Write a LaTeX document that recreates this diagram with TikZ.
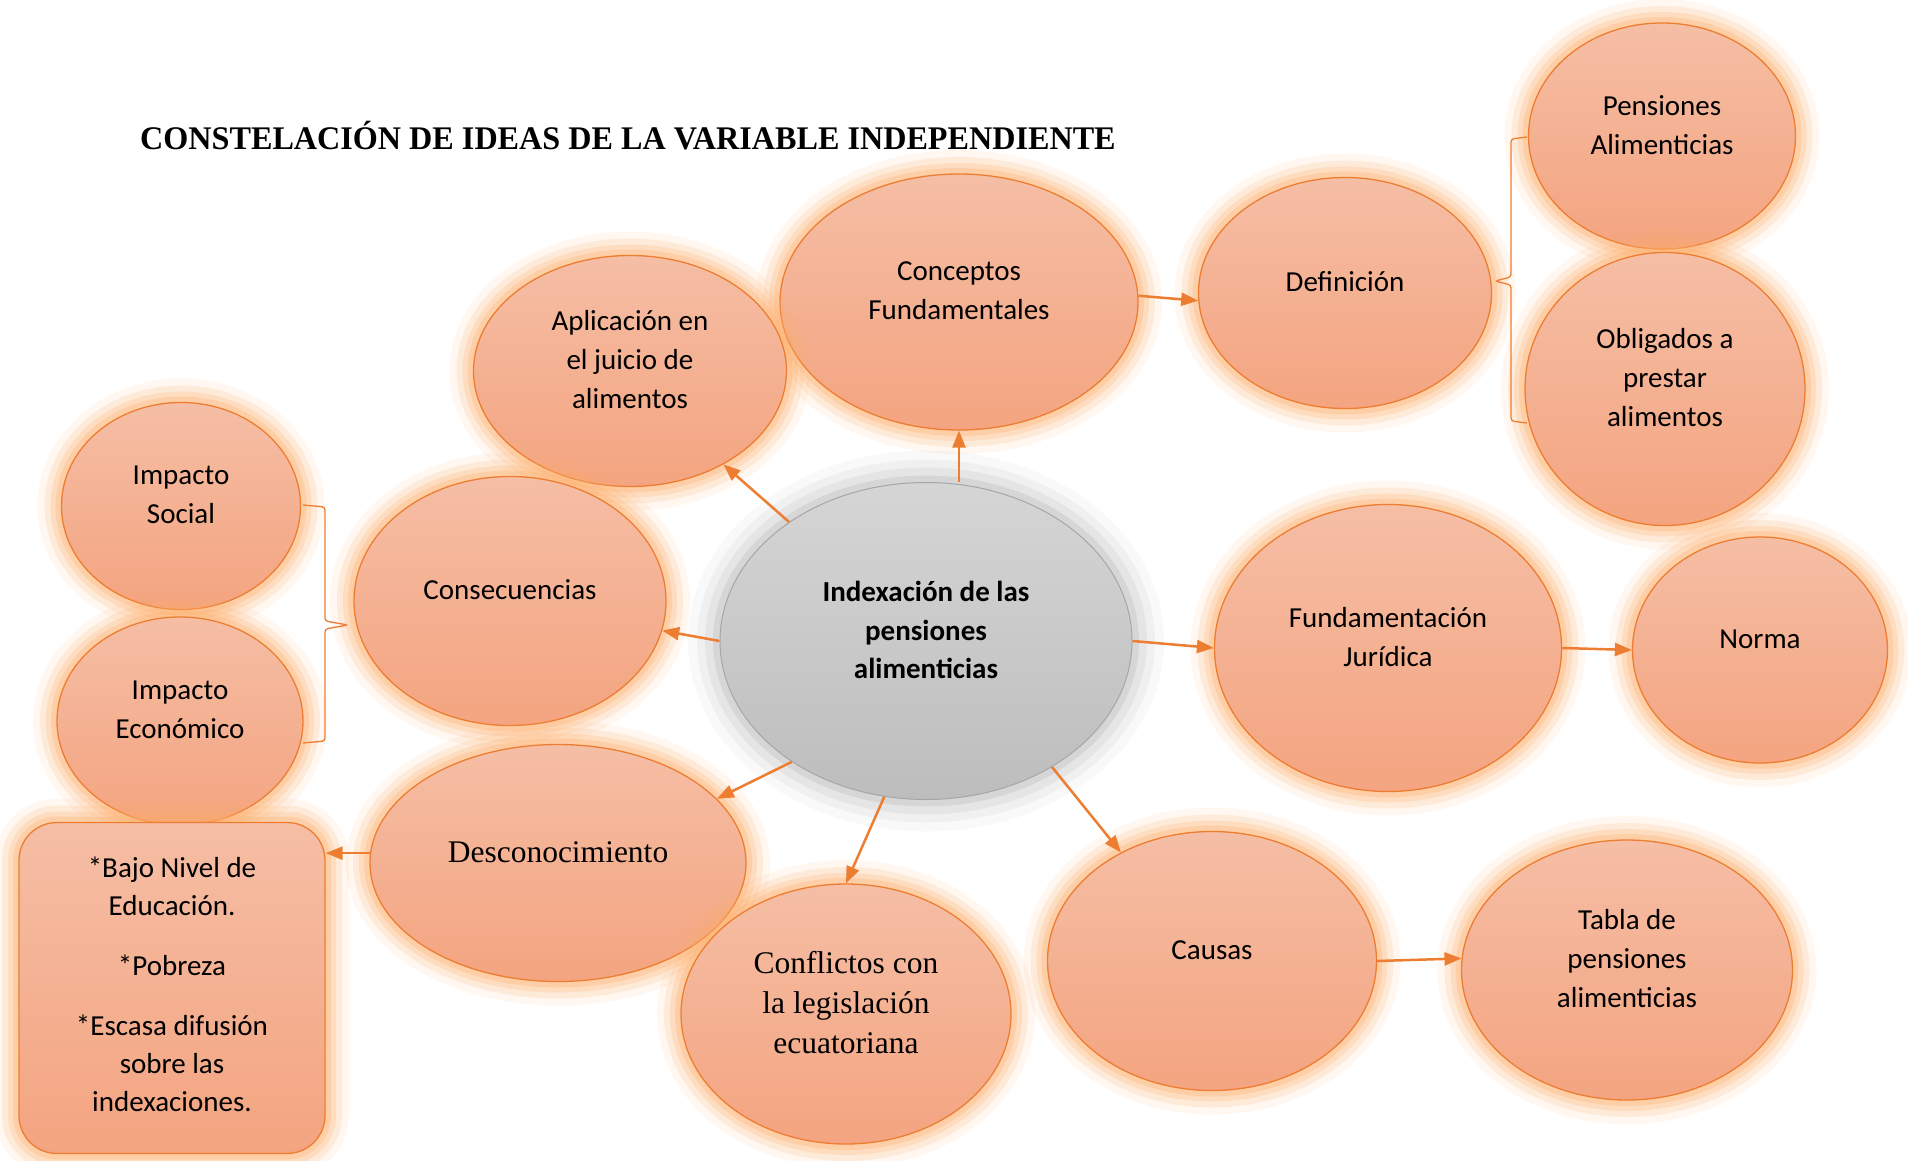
\documentclass[tikz,border=0pt]{standalone}
\usepackage{fontspec}
\setmainfont{Carlito}
\newfontfamily\tnr{Liberation Serif}
\usetikzlibrary{shapes.geometric, arrows.meta}
\definecolor{accent}{HTML}{ED7D31}
\definecolor{bubtop}{HTML}{F5BEA5}
\definecolor{bubbot}{HTML}{F4A480}
\definecolor{glowc}{HTML}{FDAE6B}
\definecolor{coretop}{HTML}{D5D5D5}
\definecolor{corebot}{HTML}{BDBDBD}
\tikzstyle{bubble} = [ellipse, draw=accent, line width=1.3pt, top color=bubtop, bottom color=bubbot,
  preaction={draw=glowc, line width=48pt, opacity=0.1},
  preaction={draw=glowc, line width=34pt, opacity=0.17},
  preaction={draw=glowc, line width=22pt, opacity=0.24},
  preaction={draw=glowc, line width=12pt, opacity=0.3}]
\tikzstyle{note} = [rectangle, rounded corners=38pt, draw=accent, line width=1.3pt, top color=bubtop, bottom color=bubbot,
  preaction={draw=glowc, line width=48pt, opacity=0.1},
  preaction={draw=glowc, line width=34pt, opacity=0.17},
  preaction={draw=glowc, line width=22pt, opacity=0.24},
  preaction={draw=glowc, line width=12pt, opacity=0.3}]
\tikzstyle{core} = [ellipse, draw=gray!70, line width=1pt, top color=coretop, bottom color=corebot,
  preaction={draw=gray, line width=64pt, opacity=0.05},
  preaction={draw=gray, line width=46pt, opacity=0.07},
  preaction={draw=gray, line width=30pt, opacity=0.1},
  preaction={draw=gray, line width=14pt, opacity=0.14}]
\tikzstyle{txt} = [align=center, font=\fontsize{29}{39}\selectfont]
\tikzstyle{serif} = [align=center, font=\tnr\fontsize{31.5}{40}\selectfont]
\tikzstyle{arrow} = [draw=accent, line width=2.5pt, -{Triangle[length=17pt,width=13pt]}]
\tikzstyle{bracket} = [draw=accent, line width=1.3pt, rounded corners=3pt]

\begin{document}
\begin{tikzpicture}[x=1pt, y=-1pt]
	\useasboundingbox (0,0) rectangle (1908,1161);

	\node (title) [anchor=base west, inner sep=0pt, font=\tnr\bfseries\fontsize{33}{36}\selectfont] at (140,150) {\scalebox{0.975}[1]{CONSTELACIÓN DE IDEAS DE LA VARIABLE INDEPENDIENTE}};

	% centro
	\node (cen) [core, minimum width=412pt, minimum height=317pt] at (926,641) {};
	\node (cen-t) [txt, font=\bfseries\fontsize{29}{38.5}\selectfont] at ([yshift=11pt]cen) {Indexación de las\\pensiones\\alimenticias};

	% arriba
	\node (con) [bubble, minimum width=358pt, minimum height=256pt] at (959,302) {};
	\node (con-t) [txt] at ([yshift=11pt]con) {Conceptos\\Fundamentales};
	\node (apl) [bubble, minimum width=313pt, minimum height=231pt] at (630,371) {};
	\node (apl-t) [txt] at ([yshift=11pt]apl) {Aplicación en\\el juicio de\\alimentos};
	\node (def) [bubble, minimum width=293pt, minimum height=231pt] at (1345,293) {};
	\node (def-t) [txt] at ([yshift=11pt]def) {Definición};
	\node (pen) [bubble, minimum width=267pt, minimum height=226pt] at (1662,136) {};
	\node (pen-t) [txt] at ([yshift=11pt]pen) {Pensiones\\Alimenticias};
	\node (obl) [bubble, minimum width=280pt, minimum height=273pt] at (1665,389) {};
	\node (obl-t) [txt] at ([yshift=11pt]obl) {Obligados a\\prestar\\alimentos};

	% izquierda
	\node (iso) [bubble, minimum width=239pt, minimum height=207pt] at (181,506) {};
	\node (iso-t) [txt] at ([yshift=11pt]iso) {Impacto\\Social};
	\node (ieco) [bubble, minimum width=246pt, minimum height=208pt] at (180,721) {};
	\node (ieco-t) [txt] at ([yshift=11pt]ieco) {Impacto\\Económico};
	\node (csq) [bubble, minimum width=312pt, minimum height=249pt] at (510,601) {};
	\node (csq-t) [txt] at ([yshift=11pt]csq) {Consecuencias};

	% derecha
	\node (fund) [bubble, minimum width=347pt, minimum height=287pt] at (1388,648) {};
	\node (fund-t) [txt] at ([yshift=11pt]fund) {Fundamentación\\Jurídica};
	\node (norma) [bubble, minimum width=255pt, minimum height=226pt] at (1760,650) {};
	\node (norma-t) [txt] at ([yshift=11pt]norma) {Norma};

	% abajo
	\node (box) [note, minimum width=306pt, minimum height=331pt] at (172,988) {};
	\node (box-t) [txt, font=\fontsize{29}{38}\selectfont] at ([yshift=4pt]box) {*Bajo Nivel de\\Educación.\\[22pt]*Pobreza\\[22pt]*Escasa difusión\\sobre las\\indexaciones.};
	\node (desc) [bubble, minimum width=376pt, minimum height=237pt] at (558,863) {};
	\node (desc-t) [serif] at ([yshift=11pt]desc) {Desconocimiento};
	\node (conf) [bubble, minimum width=330pt, minimum height=260pt] at (846,1014) {};
	\node (conf-t) [serif] at ([yshift=11pt]conf) {Conflictos con\\la legislación\\ecuatoriana};
	\node (cau) [bubble, minimum width=329pt, minimum height=259pt] at (1212,961) {};
	\node (cau-t) [txt] at ([yshift=11pt]cau) {Causas};
	\node (tab) [bubble, minimum width=331pt, minimum height=260pt] at (1627,970) {};
	\node (tab-t) [txt] at ([yshift=11pt]tab) {Tabla de\\pensiones\\alimenticias};

	% flechas
	\draw [arrow] (cen.139) -- (apl.-45);
	\draw [arrow] (cen.north -| con.south) -- (con.south);
	\draw [arrow] (con.2) -- (def.183);
	\draw [arrow] (cen.west) -- (csq.-11);
	\draw [arrow] (cen.east) -- (fund.west);
	\draw [arrow] (fund.east) -- (norma.west);
	\draw [arrow] (cen.222) -- (desc.22);
	\draw [arrow] (cen.255) -- (conf.north);
	\draw [arrow] (cen.-45) -- (cau.130);
	\draw [arrow] (cau.east) -- (tab.176);
	\draw [arrow] (desc.177) -- (desc.177 -| box.east);

	% llaves
	\draw [bracket] (1527,137) -- (1511,139) -- (1511,277) -- (1495,281) -- (1511,285) -- (1511,421) -- (1527,423);
	\draw [bracket] (303,505) -- (325,507) -- (325,621) -- (348,625) -- (325,629) -- (325,741) -- (303,743);
\end{tikzpicture}
\end{document}
